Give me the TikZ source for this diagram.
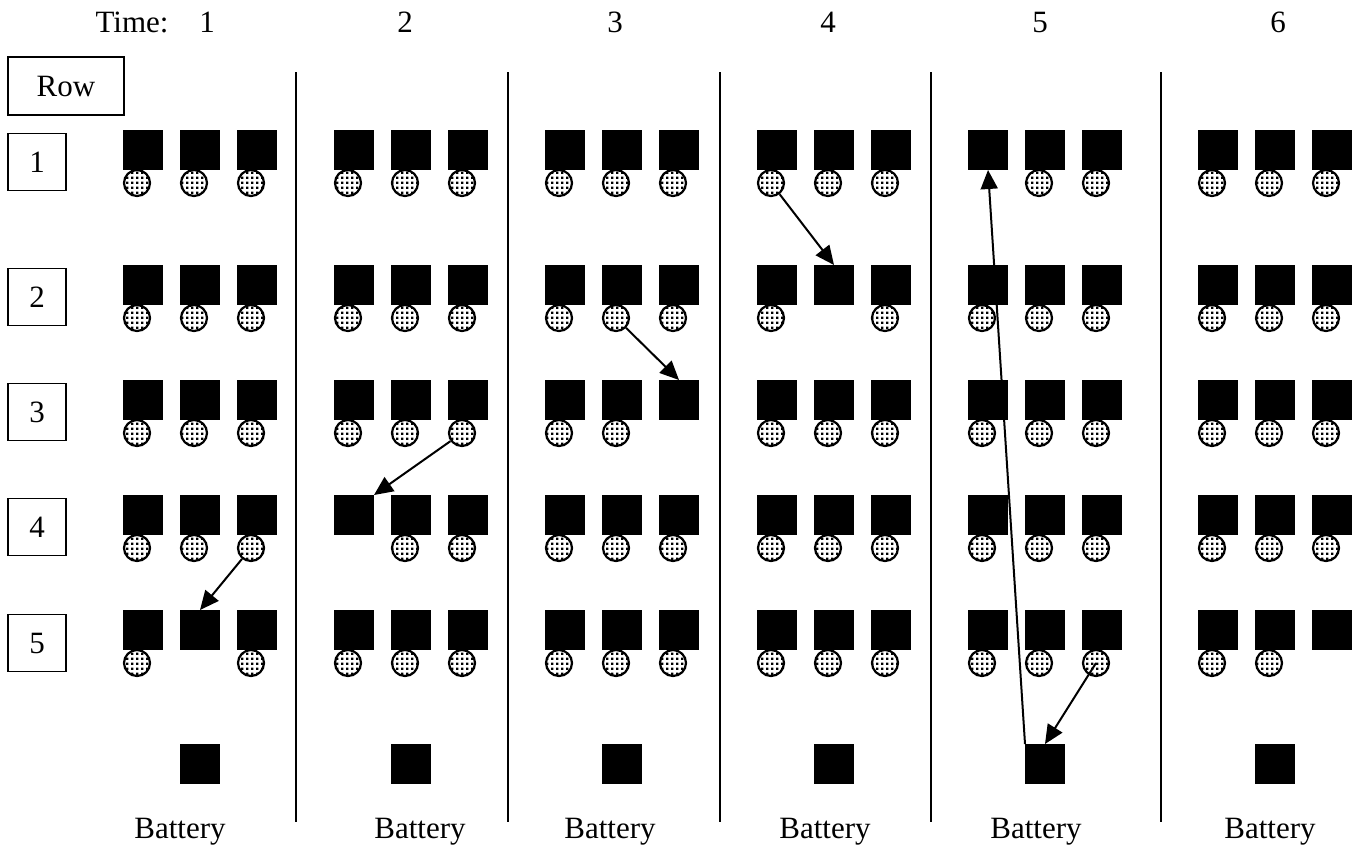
\documentclass[tikz,border=0pt]{standalone}
\usepackage{fontspec}
\setmainfont{Liberation Serif}
\usetikzlibrary{arrows.meta, patterns.meta}

\tikzdeclarepattern{
  name=dotgrid,
  type=uncolored,
  bottom left={(0pt,0pt)},
  top right={(5pt,5pt)},
  tile size={(5pt,5pt)},
  code={\fill (1.2pt,1.2pt) rectangle (3.8pt,3.8pt);}
}

\begin{document}
\begin{tikzpicture}[
    x=1pt, y=-1pt,
    font=\fontsize{31}{36}\selectfont,
    blk/.style={fill=black, minimum size=40pt, inner sep=0pt, outer sep=0pt},
    ball/.style={circle, draw, line width=2.2pt, minimum size=26pt, inner sep=0pt,
                 preaction={fill=white}, pattern=dotgrid, pattern color=black},
    lbl/.style={draw, line width=1.6pt, minimum width=58pt, minimum height=57pt, inner sep=0pt},
    sep/.style={line width=2pt},
    mv/.style={-{Triangle[length=19pt,width=17pt]}, line width=2pt}
]
\useasboundingbox (0,0) rectangle (1356,855);

% Header and row labels
\node (time) at (132,22) {Time:};
\foreach \c/\x in {1/207,2/405,3/615,4/828,5/1040,6/1278}
  \node (t\c) at (\x,22) {\c};
\node[lbl, minimum width=116pt, minimum height=58pt] (row) at (66,86) {Row};
\foreach \r/\y in {1/162,2/297,3/412,4/527,5/643}
  \node[lbl] (r\r) at (37,\y) {\r};

% Separators between time steps
\foreach \x in {296,508,720,931,1161}
  \draw[sep] (\x,72) -- (\x,822);

% Squares and batteries
\foreach \c/\x in {1/123,2/334,3/545,4/757,5/968,6/1198} {
  \foreach \r/\y in {1/130,2/265,3/380,4/495,5/610}
    \foreach \k in {1,2,3}
      \node[blk] (s-\c-\r-\k) at ({\x+20+57*(\k-1)},\y+20) {};
  \node[blk] (b-\c) at (\x+77,764) {};
}
\foreach \c/\x in {1/180,2/420,3/610,4/825,5/1036,6/1270}
  \node (bl-\c) at (\x,832) {Battery};

% Balls (one missing per time step)
\foreach \c/\x/\mr/\mk in {1/123/5/2,2/334/4/1,3/545/3/3,4/757/2/2,5/968/1/1,6/1198/5/3}
  \foreach \r/\y in {1/130,2/265,3/380,4/495,5/610}
    \foreach \k in {1,2,3} {
      \pgfmathtruncatemacro\hole{and(\r==\mr,\k==\mk)}
      \ifnum\hole=0
        \node[ball] (d-\c-\r-\k) at ({\x+14+57*(\k-1)},\y+53) {};
      \fi
    }

% Moves
\draw[mv] (d-1-4-3) -- (s-1-5-2.north);
\draw[mv] (d-2-3-3) -- (s-2-4-1.north east);
\draw[mv] (d-3-2-2) -- (s-3-3-3.north);
\draw[mv] (d-4-1-1) -- (s-4-2-2.north);
\draw[mv] (b-5.north west) -- (s-5-1-1.south);
\draw[mv] (d-5-5-3.center) -- (b-5.north);
\end{tikzpicture}
\end{document}
